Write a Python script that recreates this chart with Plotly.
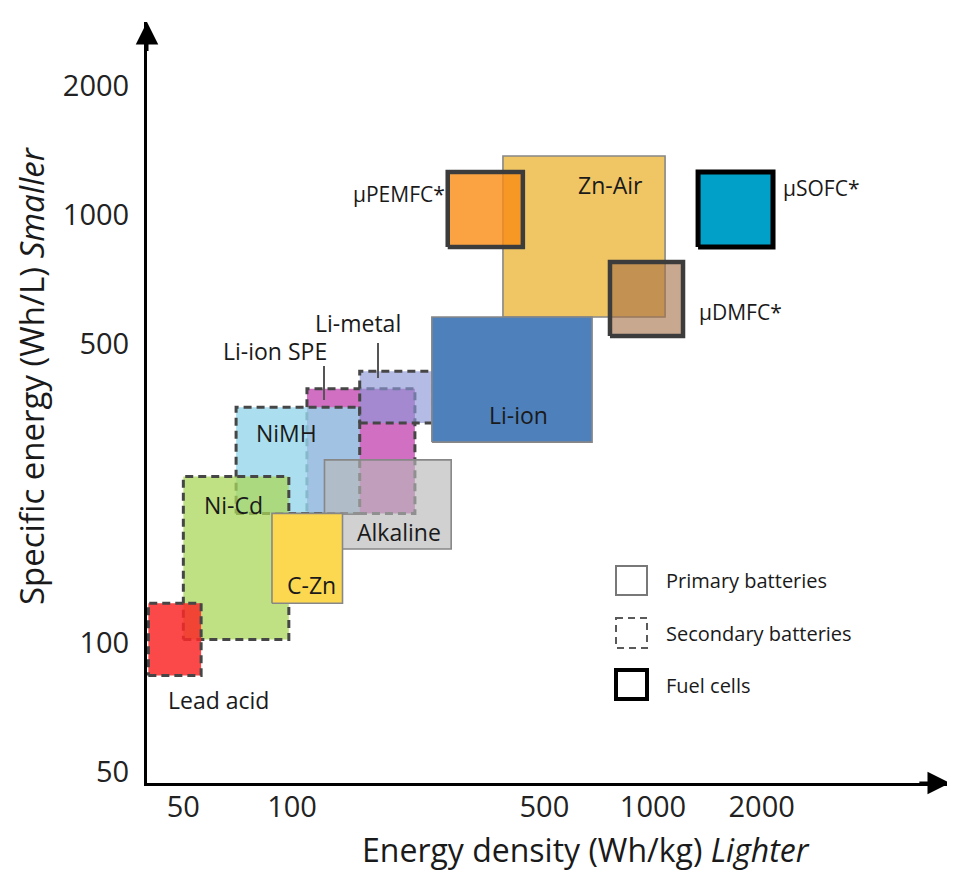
import plotly.graph_objects as go

# ---------------- data ----------------
names = ["Li-ion SPE", "NiMH", "Ni-Cd", "Lead acid", "Li-metal", "Alkaline", "C-Zn",
         "Zn-Air", "Li-ion", "μPEMFC*", "μDMFC*", "μSOFC*"]
kinds = ["secondary", "secondary", "secondary", "secondary", "secondary", "primary", "primary",
         "primary", "primary", "fuel", "fuel", "fuel"]
wh_kg_min = [110, 70, 50, 40, 154, 123, 88, 384, 244, 270, 760, 1333]
wh_kg_max = [219, 154, 98, 56, 246, 276, 138, 1080, 678, 436, 1211, 2150]
wh_l_min = [201, 201, 102, 84, 327, 166, 124, 578, 295, 843, 522, 843]
wh_l_max = [393, 356, 245, 124, 432, 268, 201, 1375, 578, 1262, 777, 1262]

x_ticks = [50, 100, 500, 1000, 2000]
y_ticks = [50, 100, 500, 1000, 2000]

# ---------------- styles ----------------
fills = {
    "Li-ion SPE": "rgba(205,100,190,0.92)",
    "NiMH": "rgba(150,215,235,0.8)",
    "Ni-Cd": "rgba(170,215,90,0.75)",
    "Lead acid": "rgba(250,40,40,0.85)",
    "Li-metal": "rgba(140,150,215,0.65)",
    "Alkaline": "rgba(185,185,185,0.65)",
    "C-Zn": "rgba(252,216,80,1)",
    "Zn-Air": "rgba(240,198,100,1)",
    "Li-ion": "rgba(78,128,188,1)",
    "μPEMFC*": "rgba(250,140,20,0.8)",
    "μDMFC*": "rgba(165,110,70,0.6)",
    "μSOFC*": "rgba(0,160,200,1)",
}
line_styles = {
    "primary": dict(color="rgb(135,135,135)", width=1.6, dash="solid"),
    "secondary": dict(color="rgb(70,70,70)", width=3, dash="8px,5px"),
    "fuel": dict(color="rgb(60,60,60)", width=4.5, dash="solid"),
}

FONT = "Open Sans"

fig = go.Figure()
for n, k, x0, x1, y0, y1 in zip(names, kinds, wh_kg_min, wh_kg_max, wh_l_min, wh_l_max):
    ls = dict(line_styles[k])
    if n == "μSOFC*":
        ls["color"] = "black"
        ls["width"] = 5
    fig.add_trace(go.Scatter(
        x=[x0, x1, x1, x0, x0], y=[y0, y0, y1, y1, y0],
        mode="lines", fill="toself", fillcolor=fills[n],
        line=ls, name=n, showlegend=False, hoverinfo="name"))

# ---------------- layout helpers (page pixel -> paper) ----------------
OFF = 8  # page body margin
L, R, T, B = 147, 950, 22, 783   # plot area in page pixels
W, H = 955 - OFF, 876 - OFF


def px(x):
    return (x - L) / (R - L)


def py(y):
    return (B - y) / (B - T)


annotations = []


def label(text, x, y, size=23, xanchor="center", color="#1a1a1a"):
    annotations.append(dict(text=text, x=px(x), y=py(y), xref="paper", yref="paper",
                            showarrow=False, xanchor=xanchor, yanchor="middle",
                            font=dict(family=FONT, size=size, color=color)))


label("Lead acid", 218, 700)
label("Ni-Cd", 233, 505)
label("NiMH", 286, 433)
label("C-Zn", 311, 585)
label("Alkaline", 399, 532)
label("Li-ion", 518, 415)
label("Li-ion SPE", 275, 351)
label("Li-metal", 358, 323)
label("Zn-Air", 610, 185)
label("μPEMFC*", 447, 194, size=21, xanchor="right")
label("μSOFC*", 781, 188, size=21, xanchor="left")
label("μDMFC*", 697, 312, size=21, xanchor="left")

# legend
label("Primary batteries", 664, 580, size=20, xanchor="left")
label("Secondary batteries", 664, 633, size=20, xanchor="left")
label("Fuel cells", 664, 685, size=20, xanchor="left")

# axis titles
annotations.append(dict(text="Energy density (Wh/kg) <i>Lighter</i>", x=px(586), y=py(849),
                        xref="paper", yref="paper", showarrow=False, xanchor="center",
                        yanchor="middle", font=dict(family=FONT, size=32, color="#1a1a1a")))
annotations.append(dict(text="Specific energy (Wh/L) <i>Smaller</i>", x=px(32), y=py(376),
                        xref="paper", yref="paper", showarrow=False, xanchor="center",
                        yanchor="middle", textangle=-90,
                        font=dict(family=FONT, size=33, color="#1a1a1a")))

# axis arrows
annotations.append(dict(x=1, y=0, xref="x domain", yref="y domain", ax=0.96, ay=0,
                        axref="x domain", ayref="y domain", showarrow=True, arrowhead=2,
                        arrowsize=1.5, arrowwidth=3, arrowcolor="black", text=""))
annotations.append(dict(x=0, y=1, xref="x domain", yref="y domain", ax=0, ay=0.96,
                        axref="x domain", ayref="y domain", showarrow=True, arrowhead=2,
                        arrowsize=1.5, arrowwidth=3, arrowcolor="black", text=""))

shapes = []
# leader lines
shapes.append(dict(type="line", xref="paper", yref="paper", x0=px(324), x1=px(324),
                   y0=py(366), y1=py(400), line=dict(color="#555", width=2)))
shapes.append(dict(type="line", xref="paper", yref="paper", x0=px(378), x1=px(378),
                   y0=py(343), y1=py(378), line=dict(color="#555", width=2)))
# legend squares
shapes.append(dict(type="rect", xref="paper", yref="paper", x0=px(616), x1=px(647),
                   y0=py(566), y1=py(595), line=dict(color="rgb(120,120,120)", width=2)))
shapes.append(dict(type="rect", xref="paper", yref="paper", x0=px(616), x1=px(647),
                   y0=py(618), y1=py(648), line=dict(color="rgb(90,90,90)", width=2, dash="7px,5px")))
shapes.append(dict(type="rect", xref="paper", yref="paper", x0=px(616), x1=px(647),
                   y0=py(670), y1=py(699), line=dict(color="black", width=4)))

fig.update_layout(
    width=W, height=H,
    margin=dict(l=L - OFF, r=W - (R - OFF), t=T - OFF, b=H - (B - OFF)),
    paper_bgcolor="white", plot_bgcolor="white",
    showlegend=False,
    annotations=annotations, shapes=shapes,
    xaxis=dict(type="log", range=[1.5983, 3.8227], tickvals=x_ticks,
               ticktext=[str(v) for v in x_ticks], showgrid=False, zeroline=False,
               showline=True, linecolor="black", linewidth=3, ticks="",
               ticklabelstandoff=-4,
               tickfont=dict(family=FONT, size=29, color="#222")),
    yaxis=dict(type="log", range=[1.6733, 3.4513], tickvals=y_ticks,
               ticktext=[str(v) for v in y_ticks], showgrid=False, zeroline=False,
               showline=True, linecolor="black", linewidth=3, ticks="",
               ticklabelstandoff=9,
               tickfont=dict(family=FONT, size=29, color="#222")),
)

fig.write_html("out.html")
